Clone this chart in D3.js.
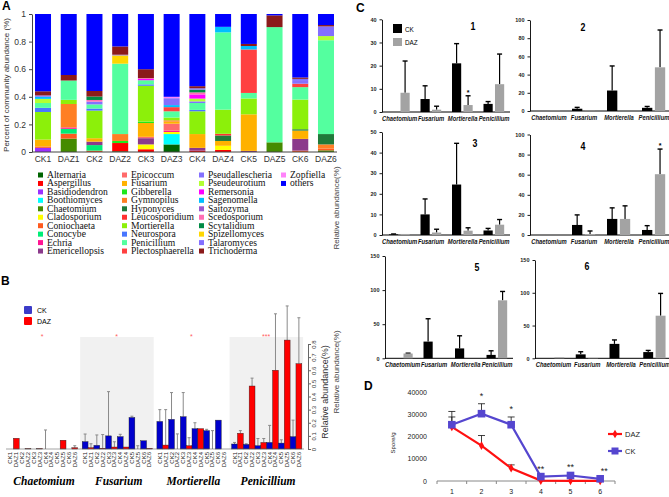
<!DOCTYPE html>
<html><head><meta charset="utf-8">
<script src="https://cdn.jsdelivr.net/npm/d3@7"></script>
<style>body{margin:0;background:#fff} svg{display:block}</style>
</head><body><svg id="c" width="669" height="497"></svg>
<script>
// ---------- Panel A data ----------
const sampleNames = ["CK1","DAZ1","CK2","DAZ2","CK3","DAZ3","CK4","DAZ4","CK5","DAZ5","CK6","DAZ6"];
const genusNames = ["Alternaria","Aspergillus","Basidiodendron","Boothiomyces","Chaetomium","Cladosporium","Coniochaeta","Conocybe","Echria","Emericellopsis","Epicoccum","Fusarium","Gibberella","Gymnopilus","Hyponyces","Leucosporidium","Mortierella","Neurospora","Penicillium","Plectosphaerella","Pseudallescheria","Pseudeurotium","Remersonia","Sagenomella","Saitozyma","Scedosporium","Scytalidium","Spizellomyces","Talaromyces","Trichoderma","Zopfiella","others"];
const genusColors = ["#006400","#FF0000","#9B30FF","#00FFFF","#458B00","#FFFF00","#FF5A1F","#00EE76","#FF1493","#8B3A8B","#FF6A6A","#FFB100","#1EE81E","#FF7F24","#1F7A3A","#FF3030","#8CF00A","#4876FF","#54FF9F","#FF4040","#8470FF","#B4FF32","#FF00FF","#00BFFF","#9B59D0","#FF6EB4","#008B45","#FFD700","#836FFF","#8B1A1A","#FF83FA","#0000FF"];
const aCK1 = [["Basidiodendron",0.03],["Coniochaeta",0.01],["Fusarium",0.05],["Mortierella",0.20],["Neurospora",0.03],["Penicillium",0.035],["Pseudeurotium",0.03],["Sagenomella",0.015],["Talaromyces",0.01],["Trichoderma",0.03],["others",0.56]];
const aDAZ1 = [["Chaetomium",0.097],["Coniochaeta",0.036],["Conocybe",0.035],["Echria",0.01],["Gymnopilus",0.17],["Mortierella",0.03],["Penicillium",0.14],["Trichoderma",0.04],["others",0.442]];
const aCK2 = [["Coniochaeta",0.01],["Conocybe",0.04],["Emericellopsis",0.025],["Fusarium",0.025],["Mortierella",0.20],["Neurospora",0.015],["Penicillium",0.03],["Pseudallescheria",0.02],["Scedosporium",0.012],["Scytalidium",0.025],["Trichoderma",0.04],["others",0.558]];
const aDAZ2 = [["Alternaria",0.005],["Aspergillus",0.06],["Gibberella",0.015],["Gymnopilus",0.05],["Penicillium",0.51],["Spizellomyces",0.06],["Talaromyces",0.005],["Trichoderma",0.06],["others",0.235]];
const aCK3 = [["Aspergillus",0.02],["Cladosporium",0.035],["Emericellopsis",0.045],["Epicoccum",0.01],["Fusarium",0.10],["Gibberella",0.01],["Mortierella",0.26],["Neurospora",0.01],["Penicillium",0.03],["Remersonia",0.01],["Scedosporium",0.005],["Trichoderma",0.065],["others",0.40]];
const aDAZ3 = [["Alternaria",0.055],["Boothiomyces",0.075],["Cladosporium",0.015],["Echria",0.01],["Epicoccum",0.05],["Fusarium",0.015],["Gymnopilus",0.01],["Mortierella",0.02],["Penicillium",0.045],["Plectosphaerella",0.03],["Sagenomella",0.015],["Talaromyces",0.05],["Zopfiella",0.01],["others",0.60]];
const aCK4 = [["Aspergillus",0.01],["Emericellopsis",0.02],["Fusarium",0.10],["Mortierella",0.165],["Neurospora",0.01],["Penicillium",0.05],["Pseudallescheria",0.012],["Pseudeurotium",0.02],["Remersonia",0.03],["Scedosporium",0.015],["Scytalidium",0.02],["Talaromyces",0.01],["Trichoderma",0.015],["others",0.523]];
const aDAZ4 = [["Aspergillus",0.015],["Cladosporium",0.03],["Fusarium",0.035],["Hyponyces",0.04],["Leucosporidium",0.012],["Mortierella",0.175],["Penicillium",0.56],["Sagenomella",0.04],["others",0.093]];
const aCK5 = [["Emericellopsis",0.008],["Fusarium",0.265],["Mortierella",0.115],["Penicillium",0.04],["Plectosphaerella",0.315],["Sagenomella",0.025],["Trichoderma",0.015],["others",0.217]];
const aDAZ5 = [["Chaetomium",0.07],["Penicillium",0.835],["Trichoderma",0.085],["others",0.01]];
const aCK6 = [["Coniochaeta",0.01],["Emericellopsis",0.085],["Fusarium",0.06],["Hyponyces",0.01],["Mortierella",0.215],["Penicillium",0.09],["Plectosphaerella",0.025],["Pseudallescheria",0.02],["Talaromyces",0.015],["Trichoderma",0.01],["others",0.46]];
const aDAZ6 = [["Chaetomium",0.012],["Coniochaeta",0.013],["Gymnopilus",0.03],["Hyponyces",0.075],["Penicillium",0.68],["Pseudeurotium",0.03],["Talaromyces",0.07],["Trichoderma",0.01],["others",0.08]];
const aTicks = [0,0.2,0.4,0.6,0.8,1];

// ---------- Panel B data ----------
const bGenera = ["Chaetomium","Fusarium","Mortierella","Penicillium"];
const bStars = ["*","*","*","***"];
const bChaetomium    = [0,0.082,0,0.003,0,0.003,0,0,0,0.067,0,0.01];
const bChaetomiumErr = [0,0,0,0,0,0,0.145,0,0,0,0,0.025];
const bFusarium      = [0.056,0.01,0.028,0.005,0.10,0.015,0.094,0.015,0.24,0,0.063,0.005];
const bFusariumErr   = [0.114,0.04,0.107,0.11,0.437,0.055,0.112,0,0.25,0.025,0,0];
const bMortierella   = [0.21,0.03,0.226,0,0.246,0.025,0.155,0.155,0.14,0,0.22,0];
const bMortierellaErr= [0.30,0.30,0.43,0.115,0.43,0.086,0.20,0,0.15,0.14,0,0];
const bPenicillium   = [0.038,0.12,0.035,0.48,0.025,0.05,0.05,0.60,0.045,0.83,0.094,0.65];
const bPenicilliumErr= [0.05,0.14,0.04,0.54,0.08,0.08,0.18,1.03,0.07,1.09,0.22,1.0];
const bTicks = [0,0.1,0.2,0.3,0.4,0.5,0.6,0.7,0.8];

// ---------- Panel C data ----------
const cGenera = ["Chaetomium","Fusarium","Mortierella","Penicillium"];
const cPanelNames = ["1","2","3","4","5","6"];
const cYMax = [40,100,50,100,150,150];
const cYStep = [10,20,10,20,50,50];
const cCK    = [[0,5.6,21,3.5],[0,2.5,22.5,3.5],[0.3,10,24.5,2.2],[0,10,16,5],[0,24.5,14.5,5],[0,6,22,9.5]];
const cCKErr = [[0,11.3,29.5,4.5],[0,4,49.5,5],[0.5,17.5,44.5,3.2],[0,20,27,9.3],[0,58,33,11],[0,10,28,12]];
const cDAZ   = [[8.3,1,3,12],[0.3,0.3,0,48],[0.5,1.2,2.1,5],[0,1,16,60.5],[7,0,0,85],[1.5,0.5,0,65]];
const cDAZErr= [[22,2.5,7,25],[0,0,0,89],[0,2.8,3.5,7.5],[0,4,29,85.5],[7.5,0,0,98],[0,0,0,99]];
const cDAZStar=[[0,0,1,0],[0,0,0,0],[0,0,0,0],[0,0,0,1],[0,0,0,0],[0,0,0,0]];

// ---------- Panel D data ----------
const dDays = ["1","2","3","4","5","6"];
const dDAZ    = [24500,16000,5800,200,100,100];
const dDAZErr = [29000,20600,7300,0,0,0];
const dCK     = [25500,30500,25500,2000,2500,1000];
const dCKErr  = [31500,35000,29000,0,0,0];
const dStars  = ["","*","*","**","**","**"];
const dTicks  = [0,10000,20000,30000,40000];

// ---------- drawing ----------
const SANS = "Liberation Sans, Arial, sans-serif";
const SERIF = "Liberation Serif, Times New Roman, serif";
const NARROW = "Liberation Sans Narrow, Arial Narrow, Liberation Sans, sans-serif";
const svg = d3.select("#c");
svg.append("rect").attr("width",669).attr("height",497).attr("fill","#fff");

function txt(g,t,x,y,o={}){
  const e=g.append("text").text(t)
   .attr("font-family",o.ff||SANS).attr("font-size",o.fs||8).attr("fill",o.fill||"#000");
  if(o.fw) e.attr("font-weight",o.fw);
  if(o.st) e.attr("font-style",o.st);
  if(o.anchor) e.attr("text-anchor",o.anchor);
  if(o.sx){ e.attr("x",0).attr("y",0).attr("transform",`translate(${x},${y}) scale(${o.sx},1)`); }
  else {
    e.attr("x",x).attr("y",y);
    if(o.rot!==undefined) e.attr("transform",`rotate(${o.rot},${x},${y})`);
  }
  return e;
}
txt(svg,"A",2,10,{fs:12,fw:"bold"});
txt(svg,"B",1,285,{fs:12,fw:"bold"});
txt(svg,"C",356,12,{fs:12,fw:"bold"});
txt(svg,"D",364,390,{fs:12,fw:"bold"});

// ===== Panel A =====
const gA = svg.append("g");
const ax = d3.scaleBand().domain(sampleNames).range([32,337]).paddingInner(0.378).paddingOuter(0.117);
const ay = d3.scaleLinear().domain([0,1]).range([152,14]);
const aSamples = [aCK1,aDAZ1,aCK2,aDAZ2,aCK3,aDAZ3,aCK4,aDAZ4,aCK5,aDAZ5,aCK6,aDAZ6];
const aTable = sampleNames.map((s,i)=>{const r={sample:s}; genusNames.forEach(g=>r[g]=0); aSamples[i].forEach(([g,v])=>r[g]=v); return r;});
const aStack = d3.stack().keys(genusNames)(aTable);
const colorOf = d3.scaleOrdinal().domain(genusNames).range(genusColors);
gA.selectAll("g.layer").data(aStack).join("g").attr("fill",d=>colorOf(d.key))
  .selectAll("rect").data(d=>d).join("rect")
  .attr("x",d=>ax(d.data.sample)).attr("width",ax.bandwidth())
  .attr("y",d=>ay(d[1])).attr("height",d=>Math.max(0,ay(d[0])-ay(d[1])));
const yAxA = gA.append("g").attr("transform","translate(32,0)")
  .call(d3.axisLeft(ay).tickValues(aTicks).tickSize(3).tickSizeOuter(0).tickFormat(d=>d===0?"0":d===1?"1":d3.format(".1f")(d)));
yAxA.selectAll("text").attr("font-family",SANS).attr("font-size",8.5).attr("fill","#333");
yAxA.selectAll("line,path").attr("stroke","#444");
gA.append("line").attr("x1",32).attr("x2",337).attr("y1",152).attr("y2",152).attr("stroke","#444");
sampleNames.forEach(s=>txt(gA,s,ax(s)+ax.bandwidth()/2,162,{fs:8.5,anchor:"middle",fill:"#333"}));
txt(gA,"Percent of community abundance (%)",9,85,{fs:8,anchor:"middle",rot:-90,fill:"#333"});
// legend
const legCols = [{sx:38,n:10},{sx:122,n:10},{sx:199,n:10},{sx:281,n:2}];
let gi=0;
legCols.forEach(c=>{for(let r=0;r<c.n;r++){const g=genusNames[gi];const y=175+r*8.45;
  gA.append("rect").attr("x",c.sx).attr("y",y-2.5).attr("width",5).attr("height",5).attr("fill",colorOf(g));
  txt(gA,g,c.sx+9,y+3,{ff:SERIF,fs:9.6,fill:"#111"}); gi++;}});

// ===== Panel B =====
const gB = svg.append("g");
const bx = d3.scaleBand().domain(bGenera).range([6,304.8]);
const bxi = d3.scaleBand().domain(sampleNames).range([1.5,71.7]);
const by = d3.scaleLinear().domain([0,0.8]).range([449,344]);
const bVals = [bChaetomium,bFusarium,bMortierella,bPenicillium];
const bErrs = [bChaetomiumErr,bFusariumErr,bMortierellaErr,bPenicilliumErr];
[1,3].forEach(k=>gB.append("rect").attr("x",bx(bGenera[k])-0.5).attr("width",73.5).attr("y",337).attr("height",112).attr("fill","#F1F1F1"));
bGenera.forEach((g,k)=>{
  const x0=bx(g);
  sampleNames.forEach((s,i)=>{
    const v=bVals[k][i], e=bErrs[k][i], xx=x0+bxi(s), w=bxi.bandwidth(), cx=xx+w/2;
    if(e>v){gB.append("line").attr("x1",cx).attr("x2",cx).attr("y1",by(v)).attr("y2",by(e)).attr("stroke","#8a8a8a").attr("stroke-width",1);
      gB.append("line").attr("x1",cx-1.5).attr("x2",cx+1.5).attr("y1",by(e)).attr("y2",by(e)).attr("stroke","#8a8a8a").attr("stroke-width",1);}
    if(v>0) gB.append("rect").attr("x",xx).attr("width",w).attr("y",by(v)).attr("height",by(0)-by(v))
      .attr("fill",s.startsWith("CK")?"#0000CD":"#FF0000").attr("stroke","#222").attr("stroke-width",0.4);
    txt(gB,s,cx+2,452,{fs:6,anchor:"end",rot:-90,fill:"#222"});
  });
  txt(gB,bStars[k],x0+36,339,{fs:7,anchor:"middle",fill:"#FF6060"});
  txt(gB,g,x0+38,485,{ff:SERIF,fs:11.5,fw:"bold",st:"italic",anchor:"middle"});
});
gB.append("line").attr("x1",6).attr("x2",304).attr("y1",449).attr("y2",449).attr("stroke","#666").attr("stroke-width",0.6);
const yAxB = gB.append("g").attr("transform","translate(308,0)")
  .call(d3.axisRight(by).tickValues(bTicks).tickSize(3).tickSizeOuter(0).tickFormat(d=>d===0?"0":d3.format(".1f")(d)));
yAxB.selectAll("line,path").attr("stroke","#666");
yAxB.selectAll("text").attr("font-family",SANS).attr("font-size",6).attr("fill","#333")
  .attr("text-anchor","middle").attr("x",0).attr("dy",0)
  .attr("transform","translate(8,0) rotate(-90)");
txt(gB,"Relative abundance(%)",328,392,{fs:9,anchor:"middle",rot:-90,fill:"#333"});
gB.append("rect").attr("x",24).attr("y",306).attr("width",8).attr("height",8).attr("rx",1).attr("fill","#3B3BC8");
gB.append("rect").attr("x",24).attr("y",317).attr("width",8).attr("height",8).attr("rx",1).attr("fill","#FF0000");
txt(gB,"CK",37,313,{fs:7});
txt(gB,"DAZ",37,324,{fs:7});

// ===== Panel C =====
const gC = svg.append("g");
const cLayout = [
  {x0:382,w:126,y0:112,yt:19.3,nx:473,ny:30},
  {x0:530,w:140,y0:111,yt:20,nx:583,ny:31},
  {x0:382,w:126,y0:235,yt:132,nx:475,ny:147},
  {x0:530,w:140,y0:235,yt:134.5,nx:583,ny:150},
  {x0:385,w:126,y0:358.3,yt:256,nx:477,ny:271},
  {x0:535,w:135,y0:358.3,yt:260,nx:587,ny:270}
];
cPanelNames.forEach((pn,p)=>{
  const L=cLayout[p];
  const y=d3.scaleLinear().domain([0,cYMax[p]]).range([L.y0,L.yt]);
  const x=d3.scaleBand().domain(cGenera).range([L.x0+5,L.x0+5+L.w]);
  const bw=x.bandwidth();
  const xi=d3.scaleBand().domain(["CK","DAZ"]).range([2,bw*0.72]).paddingInner(0.2);
  const ticks=d3.range(0,cYMax[p]+0.1,cYStep[p]);
  const ya=gC.append("g").attr("transform",`translate(${L.x0},0)`)
    .call(d3.axisLeft(y).tickValues(ticks).tickSize(2.5).tickSizeOuter(0).tickFormat(d3.format("d")));
  ya.selectAll("path,line").attr("stroke","#000").attr("stroke-width",0.9);
  ya.selectAll("text").attr("font-family",NARROW).attr("font-size",5.5).attr("font-weight","bold").attr("fill","#222");
  gC.append("line").attr("x1",L.x0).attr("x2",L.x0+L.w+2).attr("y1",L.y0).attr("y2",L.y0).attr("stroke","#000").attr("stroke-width",1);
  cGenera.forEach((g,k)=>{
    [["CK",cCK[p][k],cCKErr[p][k],"#000"],["DAZ",cDAZ[p][k],cDAZErr[p][k],"#A3A3A3"]].forEach(([s,v,e,col])=>{
      const xx=x(g)+xi(s), w=xi.bandwidth(), cx=xx+w/2;
      if(e>v){gC.append("line").attr("x1",cx).attr("x2",cx).attr("y1",y(v)).attr("y2",y(e)).attr("stroke","#000").attr("stroke-width",1.2);
        gC.append("line").attr("x1",cx-2.5).attr("x2",cx+2.5).attr("y1",y(e)).attr("y2",y(e)).attr("stroke","#000").attr("stroke-width",1.4);}
      if(v>0) gC.append("rect").attr("x",xx).attr("width",w).attr("y",y(v)).attr("height",y(0)-y(v)).attr("fill",col);
      if(s==="DAZ"&&cDAZStar[p][k]) txt(gC,"*",cx,y(Math.max(v,e))-1,{fs:7,anchor:"middle",fw:"bold"});
    });
    txt(gC,g,x(g)+bw*0.4,L.y0+9,{ff:SANS,fs:7.5,fw:"bold",st:"italic",anchor:"middle",fill:"#111",sx:0.78});
  });
  txt(gC,pn,L.nx,L.ny,{ff:SANS,fs:11,fw:"bold",anchor:"middle",sx:0.8});
});
gC.append("rect").attr("x",393).attr("y",24).attr("width",9).attr("height",9).attr("fill","#000");
gC.append("rect").attr("x",393).attr("y",38).attr("width",9).attr("height",8).attr("fill","#A3A3A3");
txt(gC,"CK",405,32,{fs:7.5,sx:0.85});
txt(gC,"DAZ",405,45,{fs:7.5,sx:0.85});
txt(gC,"Relative abundance(%)",339,208,{fs:8,anchor:"middle",rot:-90,fill:"#444"});
txt(gC,"Relative abundance(%)",339,372,{fs:8,anchor:"middle",rot:-90,fill:"#444"});

// ===== Panel D =====
const gD = svg.append("g");
const dx = d3.scaleBand().domain(dDays).range([437,615]);
const dc = d=>dx(d)+dx.bandwidth()/2;
const dy = d3.scaleLinear().domain([0,40000]).range([481,392.7]);
dTicks.forEach(t=>txt(gD,String(t),427,dy(t)+2.5,{fs:7,anchor:"end",fill:"#222"}));
gD.append("line").attr("x1",437).attr("x2",615).attr("y1",481).attr("y2",481).attr("stroke","#888");
dDays.forEach((d,i)=>{gD.append("line").attr("x1",dx(d)).attr("x2",dx(d)).attr("y1",481).attr("y2",484).attr("stroke","#888");
  txt(gD,d,dc(d),494,{fs:7,anchor:"middle",fill:"#222"});});
gD.append("line").attr("x1",615).attr("x2",615).attr("y1",481).attr("y2",484).attr("stroke","#888");
txt(gD,"Spore/g",395,443,{fs:6,anchor:"middle",rot:-90,fill:"#222"});
[[dCK,dCKErr],[dDAZ,dDAZErr]].forEach(([v,e])=>dDays.forEach((d,i)=>{ if(e[i]>v[i]){
  gD.append("line").attr("x1",dc(d)).attr("x2",dc(d)).attr("y1",dy(v[i])).attr("y2",dy(e[i])).attr("stroke","#111").attr("stroke-width",0.8);
  gD.append("line").attr("x1",dc(d)-3.5).attr("x2",dc(d)+3.5).attr("y1",dy(e[i])).attr("y2",dy(e[i])).attr("stroke","#111").attr("stroke-width",0.8);}}));
const line = d3.line().x((v,i)=>dc(dDays[i])).y(v=>dy(v));
gD.append("path").attr("d",line(dDAZ)).attr("fill","none").attr("stroke","#FF1010").attr("stroke-width",2.2);
gD.append("path").attr("d",line(dCK)).attr("fill","none").attr("stroke","#5546CF").attr("stroke-width",2.2);
const diamond = d3.symbol().type(d3.symbolDiamond).size(22);
dDAZ.forEach((v,i)=>gD.append("path").attr("d",diamond()).attr("transform",`translate(${dc(dDays[i])},${dy(v)})`).attr("fill","#FF1010"));
dCK.forEach((v,i)=>gD.append("rect").attr("x",dc(dDays[i])-3.8).attr("y",dy(v)-3.8).attr("width",7.6).attr("height",7.6).attr("fill","#5546CF"));
dStars.forEach((s,i)=>{ if(s) txt(gD,s,dc(dDays[i])+(i===5?4:0),dy(Math.max(dCK[i],dCKErr[i]))-5,{fs:9,anchor:"middle",fill:"#222"});});
gD.append("line").attr("x1",608).attr("x2",622).attr("y1",434).attr("y2",434).attr("stroke","#FF1010").attr("stroke-width",2.2);
gD.append("path").attr("d",diamond()).attr("transform","translate(615,434)").attr("fill","#FF1010");
txt(gD,"DAZ",625,437,{fs:7.5,fill:"#222"});
gD.append("line").attr("x1",608).attr("x2",622).attr("y1",451).attr("y2",451).attr("stroke","#5546CF").attr("stroke-width",2.2);
gD.append("rect").attr("x",611.5).attr("y",447.5).attr("width",7).attr("height",7).attr("fill","#5546CF");
txt(gD,"CK",625,454,{fs:7.5,fill:"#222"});
</script></body></html>
